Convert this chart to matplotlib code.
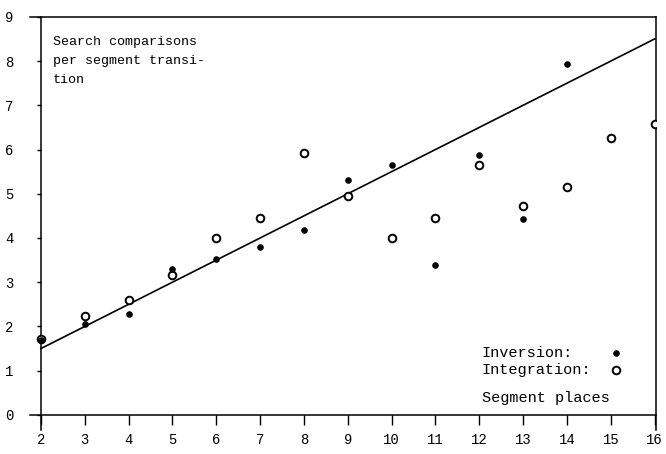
import matplotlib
matplotlib.use("Agg")
import matplotlib.pyplot as plt
import numpy as np

# segment places
places = [2, 3, 4, 5, 6, 7, 8, 9, 10, 11, 12, 13, 14, 15, 16]
# search comparisons per segment transition
inversion_x = [2, 3, 4, 5, 6, 7, 8, 9, 10, 11, 12, 13, 14]
inversion_y = [1.70, 2.05, 2.28, 3.30, 3.52, 3.80, 4.18, 5.32, 5.66, 3.39, 5.88, 4.42, 7.93]
integration_x = [2, 3, 4, 5, 6, 7, 8, 9, 10, 11, 12, 13, 14, 15, 16]
integration_y = [1.72, 2.24, 2.60, 3.16, 4.00, 4.45, 5.92, 4.96, 4.00, 4.46, 5.66, 4.72, 5.16, 6.26, 6.58]
# fitted line end points
line_x = [2, 16]
line_y = [1.5, 8.5]

font = "Liberation Mono"
plt.rcParams['font.family'] = [font, 'DejaVu Sans']

fig = plt.figure(figsize=(6.66, 4.54), dpi=100)
ax = fig.add_axes([0.045, 0.052, 0.94, 0.911])

ax.plot(line_x, line_y, color='black', lw=1.2)
ax.scatter(integration_x, integration_y, s=30, facecolors='white', edgecolors='black', linewidths=1.4, zorder=3)
ax.scatter(inversion_x, inversion_y, s=14, color='black', zorder=4)

ax.set_xlim(1.75, 16.03)
ax.set_ylim(-0.35, 9)
ax.spines['left'].set_position(('data', 2))
ax.spines['bottom'].set_position(('data', 0))
for s in ax.spines.values():
    s.set_linewidth(1.1)

ax.set_xticks(places)
ax.set_yticks(range(0, 10))
ax.tick_params(axis='x', direction='out', length=7, width=1, pad=6, labelsize=10)
ax.tick_params(axis='y', direction='out', length=3, width=1, pad=17, labelsize=10)
ax.tick_params(right=False, top=False)

ax.text(2.27, 8.56, "Search comparisons\nper segment transi-\ntion", fontsize=9.6,
        va='top', ha='left', linespacing=1.75)
ax.text(12.05, 1.40, "Inversion:", fontsize=11, va='center', ha='left')
ax.text(12.05, 1.02, "Integration:", fontsize=11, va='center', ha='left')
ax.text(12.05, 0.38, "Segment places", fontsize=11, va='center', ha='left')
ax.scatter([15.12], [1.40], s=14, color='black', clip_on=False)
ax.scatter([15.12], [1.02], s=30, facecolors='white', edgecolors='black', linewidths=1.4)

fig.savefig("out.png", dpi=100)
